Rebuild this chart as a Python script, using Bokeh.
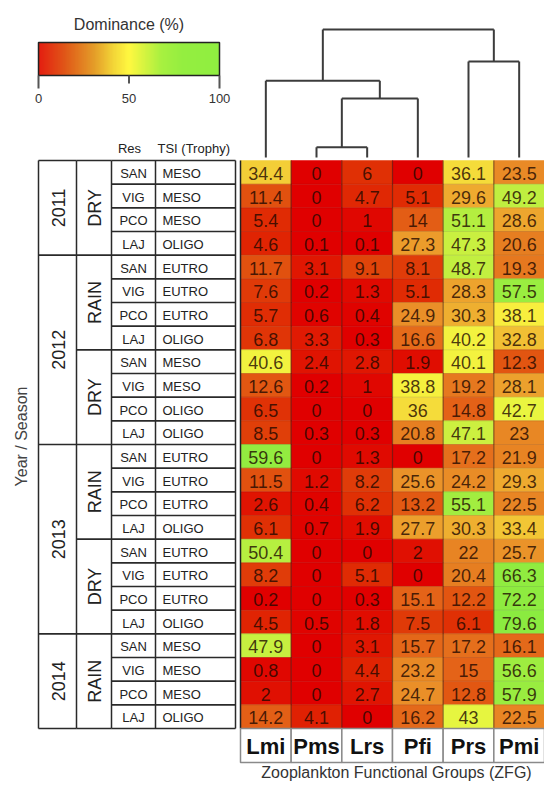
import numpy as np
from bokeh.plotting import figure
from bokeh.models import Range1d, ColumnDataSource, LinearColorMapper
from bokeh.core.properties import value
from bokeh.embed import file_html
from bokeh.resources import INLINE

# ---------------- data ----------------
groups = ["Lmi", "Pms", "Lrs", "Pfi", "Prs", "Pmi"]
years = ["2011"] * 4 + ["2012"] * 8 + ["2013"] * 8 + ["2014"] * 4
seasons = ["DRY"] * 4 + ["RAIN"] * 4 + ["DRY"] * 4 + ["RAIN"] * 4 + ["DRY"] * 4 + ["RAIN"] * 4
reservoirs = ["SAN", "VIG", "PCO", "LAJ"] * 6
trophy = ["MESO", "MESO", "MESO", "OLIGO",
          "EUTRO", "EUTRO", "EUTRO", "OLIGO",
          "MESO", "MESO", "OLIGO", "OLIGO",
          "EUTRO", "EUTRO", "EUTRO", "OLIGO",
          "EUTRO", "EUTRO", "EUTRO", "OLIGO",
          "MESO", "MESO", "MESO", "OLIGO"]
lmi = [34.4, 11.4, 5.4, 4.6, 11.7, 7.6, 5.7, 6.8, 40.6, 12.6, 6.5, 8.5,
       59.6, 11.5, 2.6, 6.1, 50.4, 8.2, 0.2, 4.5, 47.9, 0.8, 2, 14.2]
pms = [0, 0, 0, 0.1, 3.1, 0.2, 0.6, 3.3, 2.4, 0.2, 0, 0.3,
       0, 1.2, 0.4, 0.7, 0, 0, 0, 0.5, 0, 0, 0, 4.1]
lrs = [6, 4.7, 1, 0.1, 9.1, 1.3, 0.4, 0.3, 2.8, 1, 0, 0.3,
       1.3, 8.2, 6.2, 1.9, 0, 5.1, 0.3, 1.8, 3.1, 4.4, 2.7, 0]
pfi = [0, 5.1, 14, 27.3, 8.1, 5.1, 24.9, 16.6, 1.9, 38.8, 36, 20.8,
       0, 25.6, 13.2, 27.7, 2, 0, 15.1, 7.5, 15.7, 23.2, 24.7, 16.2]
prs = [36.1, 29.6, 51.1, 47.3, 48.7, 28.3, 30.3, 40.2, 40.1, 19.2, 14.8, 47.1,
       17.2, 24.2, 55.1, 30.3, 22, 20.4, 12.2, 6.1, 17.2, 15, 12.8, 43]
pmi = [23.5, 49.2, 28.6, 20.6, 19.3, 57.5, 38.1, 32.8, 12.3, 28.1, 42.7, 23,
       21.9, 29.3, 22.5, 33.4, 25.7, 66.3, 72.2, 79.6, 16.1, 56.6, 57.9, 22.5]
series = [lmi, pms, lrs, pfi, prs, pmi]

# dendrogram merges (scipy-like: leaves 0..5, new clusters 6..)
dend_a = [1, 6, 0, 4, 8]
dend_b = [2, 3, 7, 5, 9]
dend_h = [0.08, 0.46, 0.60, 0.75, 1.0]

legend_ticks = [0, 50, 100]

# ---------------- styles / layout ----------------
FONT = value("Liberation Sans")
W, H = 544, 781
X0 = 240.0
CW = (W - X0) / len(groups)
Y0, Y1 = 160.0, 728.0
RH = (Y1 - Y0) / len(years)
LAB_TOP, LAB_BOT = Y1, 762.0
DEND_BASE, DEND_SCALE = 157.0, 128.0
TAB_X = [38, 76, 111, 155, 235]


def make_palette(stops, cols, lo, hi, n=256):
    rgb = np.array([[int(c[i:i + 2], 16) for i in (1, 3, 5)] for c in cols], float)
    vs = np.linspace(lo, hi, n)
    out = []
    for v in vs:
        r, g, b = (np.interp(v, stops, rgb[:, k]) for k in range(3))
        out.append("#%02x%02x%02x" % (int(round(r)), int(round(g)), int(round(b))))
    return out


cell_pal = make_palette(
    [0, 5, 10, 15, 20, 25, 30, 35, 38, 42, 47, 52, 60, 100],
    ["#e00000", "#e02a04", "#e04a0c", "#e46418", "#e67c20", "#ea9028", "#eeae30",
     "#f4d238", "#f8ee3e", "#eef640", "#ccf040", "#aeee40", "#92ec40", "#84ea40"], 0, 100)
bar_pal = make_palette(
    [0, 15, 30, 42, 50, 58, 68, 80, 100],
    ["#e41e10", "#e05a18", "#e49a28", "#f4d838", "#fff840", "#d8f440", "#a8f040",
     "#94ee40", "#90ee40"], 0, 100)
cell_mapper = LinearColorMapper(palette=cell_pal, low=0, high=100)
bar_mapper = LinearColorMapper(palette=bar_pal, low=0, high=100)

p = figure(width=W, height=H, x_range=Range1d(0, W), y_range=Range1d(H, 0),
           output_backend="svg", toolbar_location=None, min_border=0,
           x_axis_type=None, y_axis_type=None, outline_line_color=None)
p.grid.visible = False
p.background_fill_color = "white"

# ---------------- heatmap ----------------
xs, ys, vals, labs = [], [], [], []
for ci, col in enumerate(series):
    for ri, v in enumerate(col):
        xs.append(X0 + (ci + 0.5) * CW)
        ys.append(Y0 + (ri + 0.5) * RH)
        vals.append(v)
        labs.append(f"{v:g}")
src = ColumnDataSource(dict(x=xs, y=ys, val=vals, lab=labs))
p.rect("x", "y", width=CW, height=RH, source=src,
       fill_color={"field": "val", "transform": cell_mapper},
       line_color={"field": "val", "transform": cell_mapper}, line_width=0.5)
p.text("x", "y", text="lab", source=src, text_align="center", text_baseline="middle",
       text_font=FONT, text_font_size="18px", text_color="#1e0800", text_alpha=0.8,
       y_offset=1)
# faint row separators and column separators
p.segment(x0=[X0] * (len(years) - 1), x1=[X0 + CW * len(groups)] * (len(years) - 1),
          y0=[Y0 + RH * k for k in range(1, len(years))],
          y1=[Y0 + RH * k for k in range(1, len(years))],
          line_color="black", line_alpha=0.10, line_width=1)
p.segment(x0=[X0 + CW * k for k in range(1, len(groups))],
          x1=[X0 + CW * k for k in range(1, len(groups))],
          y0=[Y0] * (len(groups) - 1), y1=[Y1] * (len(groups) - 1),
          line_color="#3a1a10", line_alpha=0.55, line_width=1.2)
p.segment(x0=[X0], x1=[X0], y0=[Y0], y1=[Y1], line_color="#222222", line_width=1.5)

# column labels box
p.rect(x=[X0 + (k + 0.5) * CW for k in range(len(groups))],
       y=[(LAB_TOP + LAB_BOT) / 2] * len(groups), width=CW, height=LAB_BOT - LAB_TOP,
       fill_color="white", line_color="#8a8a8a", line_width=1.5)
p.text(x=[X0 + (k + 0.5) * CW for k in range(len(groups))],
       y=[(LAB_TOP + LAB_BOT) / 2 + 1] * len(groups), text=groups,
       text_align="center", text_baseline="middle", text_font=FONT,
       text_font_size="22px", text_font_style="bold", text_color="#111111")
p.text(x=[396], y=[772], text=["Zooplankton Functional Groups (ZFG)"],
       text_align="center", text_baseline="middle", text_font=FONT,
       text_font_size="16px", text_color="#333333")

# ---------------- dendrogram ----------------
n = len(groups)
node_x = {i: X0 + (i + 0.5) * CW for i in range(n)}
node_h = {i: 0.0 for i in range(n)}
sx0, sx1, sy0, sy1 = [], [], [], []
for k, (a, b, h) in enumerate(zip(dend_a, dend_b, dend_h)):
    yh = DEND_BASE - h * DEND_SCALE
    for c in (a, b):
        sx0.append(node_x[c]); sx1.append(node_x[c])
        sy0.append(DEND_BASE - node_h[c] * DEND_SCALE); sy1.append(yh)
    sx0.append(node_x[a]); sx1.append(node_x[b]); sy0.append(yh); sy1.append(yh)
    node_x[n + k] = (node_x[a] + node_x[b]) / 2
    node_h[n + k] = h
p.segment(x0=sx0, x1=sx1, y0=sy0, y1=sy1, line_color="#3c3c3c", line_width=2)

# ---------------- left table ----------------
def row_top(r):
    return Y0 + r * RH

tcol = "#2a2a2a"
p.segment(x0=TAB_X, x1=TAB_X, y0=[Y0] * len(TAB_X), y1=[Y1] * len(TAB_X),
          line_color=tcol, line_width=1.5)
p.segment(x0=[TAB_X[2]] * (len(years) + 1), x1=[TAB_X[4]] * (len(years) + 1),
          y0=[row_top(r) for r in range(len(years) + 1)],
          y1=[row_top(r) for r in range(len(years) + 1)],
          line_color=tcol, line_width=1.6)
season_bounds = [0] + [r for r in range(1, len(years))
                       if (years[r], seasons[r]) != (years[r - 1], seasons[r - 1])] + [len(years)]
year_bounds = [0] + [r for r in range(1, len(years)) if years[r] != years[r - 1]] + [len(years)]
p.segment(x0=[TAB_X[1]] * len(season_bounds), x1=[TAB_X[2]] * len(season_bounds),
          y0=[row_top(r) for r in season_bounds], y1=[row_top(r) for r in season_bounds],
          line_color=tcol, line_width=1.6)
p.segment(x0=[TAB_X[0]] * len(year_bounds), x1=[TAB_X[1]] * len(year_bounds),
          y0=[row_top(r) for r in year_bounds], y1=[row_top(r) for r in year_bounds],
          line_color=tcol, line_width=1.6)

rows_y = [row_top(r) + RH / 2 + 1 for r in range(len(years))]
p.text(x=[(TAB_X[2] + TAB_X[3]) / 2] * len(years), y=rows_y, text=reservoirs,
       text_align="center", text_baseline="middle", text_font=FONT,
       text_font_size="13px", text_color="#222222")
p.text(x=[TAB_X[3] + 7] * len(years), y=rows_y, text=trophy,
       text_align="left", text_baseline="middle", text_font=FONT,
       text_font_size="13px", text_color="#222222")

sy = [(row_top(a) + row_top(b)) / 2 for a, b in zip(season_bounds[:-1], season_bounds[1:])]
stx = [seasons[a] for a in season_bounds[:-1]]
p.text(x=[(TAB_X[1] + TAB_X[2]) / 2 + 1] * len(sy), y=sy, text=stx, angle=np.pi / 2,
       text_align="center", text_baseline="middle", text_font=FONT,
       text_font_size="18px", text_color="#222222")
yy = [(row_top(a) + row_top(b)) / 2 for a, b in zip(year_bounds[:-1], year_bounds[1:])]
ytx = [years[a] for a in year_bounds[:-1]]
p.text(x=[(TAB_X[0] + TAB_X[1]) / 2 + 1] * len(yy), y=yy, text=ytx, angle=np.pi / 2,
       text_align="center", text_baseline="middle", text_font=FONT,
       text_font_size="18px", text_color="#222222")

p.text(x=[129, 157], y=[148, 148], text=["Res", "TSI (Trophy)"],
       text_align=["center", "left"], text_baseline="middle", text_font=FONT,
       text_font_size="13px", text_color="#222222")
p.text(x=[21], y=[436], text=["Year / Season"], angle=np.pi / 2,
       text_align="center", text_baseline="middle", text_font=FONT,
       text_font_size="16px", text_color="#444444")

# ---------------- colour legend ----------------
BX0, BX1, BY0, BY1 = 38.0, 219.0, 42.0, 75.0
grad = np.linspace(0, 100, 300)[None, :]
p.image(image=[grad], x=BX0, y=BY0, dw=BX1 - BX0, dh=BY1 - BY0, color_mapper=bar_mapper)
p.rect(x=[(BX0 + BX1) / 2], y=[(BY0 + BY1) / 2], width=BX1 - BX0, height=BY1 - BY0,
       fill_color=None, line_color="#222222", line_width=1.5)
tick_x = [BX0 + t / 100 * (BX1 - BX0) for t in legend_ticks]
tick_len = [13 if t in (0, 100) else 8 for t in legend_ticks]
p.segment(x0=tick_x, x1=tick_x, y0=[BY1] * len(tick_x),
          y1=[BY1 + L for L in tick_len], line_color="#555555", line_width=2)
p.text(x=tick_x, y=[98] * len(tick_x), text=[str(t) for t in legend_ticks],
       text_align="center", text_baseline="middle", text_font=FONT,
       text_font_size="13px", text_color="#333333")
p.text(x=[(BX0 + BX1) / 2], y=[24], text=["Dominance (%)"],
       text_align="center", text_baseline="middle", text_font=FONT,
       text_font_size="16px", text_color="#333333")

open("out.html", "w").write(file_html(p, INLINE))
